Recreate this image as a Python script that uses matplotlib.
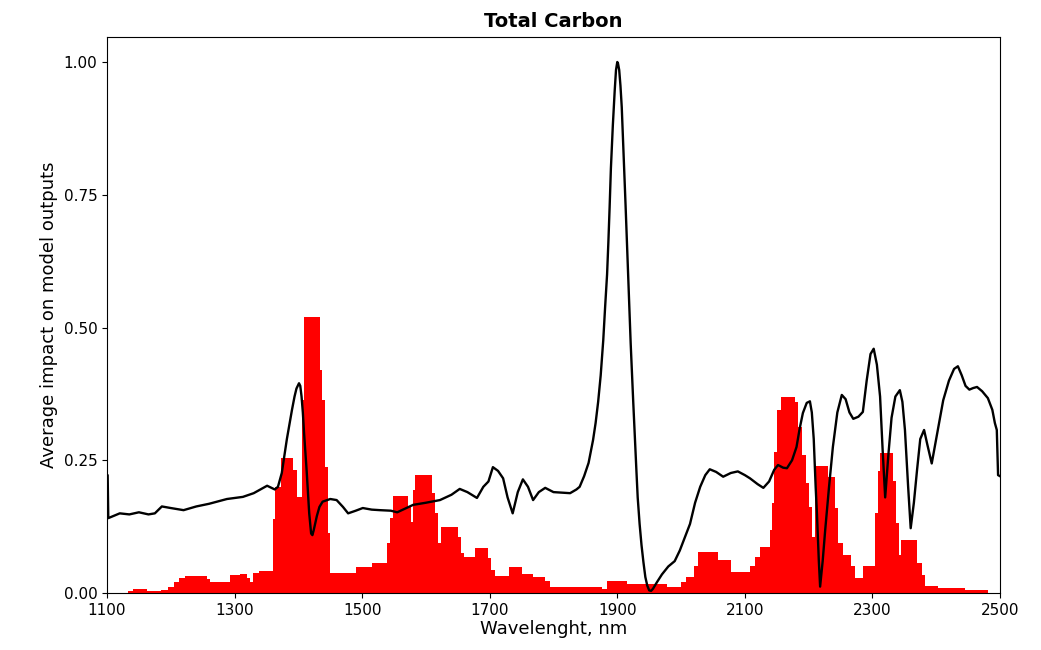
import matplotlib
matplotlib.use('Agg')
import matplotlib.pyplot as plt
import numpy as np

# black curve: average impact
wl = [1100, 1101, 1102, 1110, 1120, 1135, 1150, 1165, 1175, 1186, 1200, 1220, 1240, 1260,
      1288, 1313, 1330, 1345, 1351, 1363, 1368, 1374, 1382, 1390, 1394, 1397, 1401, 1403, 1405,
      1407, 1409, 1411, 1413, 1415, 1417, 1420, 1422, 1424, 1429, 1433, 1438, 1450, 1460, 1470,
      1478, 1490, 1501, 1515, 1528, 1545, 1555, 1580, 1600, 1622, 1640, 1653, 1665, 1680, 1690,
      1698, 1705, 1713, 1721, 1728, 1736, 1744, 1752, 1760, 1768, 1777, 1787, 1800, 1826, 1836,
      1841, 1848, 1855, 1862, 1866, 1870, 1874, 1878, 1881, 1884, 1886, 1888, 1890, 1893, 1896,
      1898, 1900, 1901, 1903, 1905, 1907, 1909, 1911, 1913, 1915, 1917, 1919, 1921, 1923, 1925,
      1928, 1930, 1932, 1935, 1938, 1941, 1944, 1947, 1950, 1953, 1956, 1962, 1970, 1980, 1990,
      1998, 2006, 2014, 2022, 2030, 2038, 2045, 2055, 2066, 2078, 2089, 2100, 2108, 2120, 2129,
      2138, 2146, 2152, 2160, 2166, 2174, 2181, 2186, 2191, 2197, 2202, 2205, 2208, 2211, 2213,
      2216, 2218, 2222, 2226, 2232, 2238, 2245, 2252, 2258, 2264, 2270, 2278, 2285, 2291, 2297,
      2302, 2307, 2312, 2316, 2320, 2325, 2330, 2336, 2343, 2347, 2351, 2356, 2360, 2365, 2370,
      2375, 2381, 2386, 2393, 2400, 2411, 2420, 2428, 2434, 2440, 2446, 2452, 2458, 2464, 2472,
      2481, 2488, 2492, 2495, 2497, 2500]
impact = [0.222, 0.222, 0.141, 0.145, 0.150, 0.148, 0.152, 0.148, 0.150, 0.163, 0.160, 0.156, 0.163, 0.168,
          0.177, 0.181, 0.188, 0.198, 0.202, 0.195, 0.200, 0.226, 0.290, 0.345, 0.370, 0.385, 0.395, 0.390, 0.370,
          0.340, 0.300, 0.265, 0.230, 0.190, 0.150, 0.112, 0.109, 0.118, 0.145, 0.162, 0.172, 0.177, 0.175, 0.162,
          0.150, 0.155, 0.160, 0.157, 0.156, 0.155, 0.152, 0.166, 0.170, 0.175, 0.185, 0.196, 0.190, 0.179, 0.200,
          0.210, 0.237, 0.230, 0.216, 0.180, 0.150, 0.190, 0.214, 0.200, 0.175, 0.190, 0.198, 0.190, 0.188, 0.195,
          0.200, 0.220, 0.245, 0.288, 0.320, 0.360, 0.410, 0.476, 0.540, 0.600, 0.660, 0.727, 0.800, 0.880, 0.947,
          0.985, 1.000, 0.998, 0.985, 0.955, 0.915, 0.855, 0.790, 0.730, 0.665, 0.600, 0.530, 0.470, 0.414, 0.360,
          0.280, 0.230, 0.180, 0.130, 0.090, 0.058, 0.030, 0.014, 0.005, 0.004, 0.008, 0.020, 0.035, 0.050, 0.060,
          0.080, 0.105, 0.130, 0.170, 0.200, 0.222, 0.233, 0.228, 0.219, 0.226, 0.229, 0.222, 0.216, 0.205, 0.198,
          0.210, 0.232, 0.241, 0.236, 0.235, 0.250, 0.275, 0.310, 0.339, 0.358, 0.361, 0.340, 0.290, 0.200, 0.150,
          0.060, 0.012, 0.060, 0.119, 0.200, 0.275, 0.340, 0.373, 0.365, 0.340, 0.328, 0.332, 0.341, 0.400, 0.450,
          0.460, 0.430, 0.370, 0.270, 0.180, 0.260, 0.330, 0.370, 0.382, 0.360, 0.307, 0.200, 0.122, 0.170, 0.232,
          0.290, 0.307, 0.280, 0.244, 0.290, 0.363, 0.400, 0.422, 0.427, 0.410, 0.390, 0.383, 0.386, 0.388, 0.380,
          0.367, 0.345, 0.320, 0.307, 0.222, 0.220]

# red histogram: left edges (last value closes the final bar) and heights
red_edges = [1133, 1140, 1163, 1185, 1196, 1205, 1213, 1222, 1257, 1262, 1293, 1309, 1319, 1324,
             1329, 1338, 1360, 1364, 1372, 1392, 1398, 1405, 1409, 1434, 1437, 1442, 1447, 1450,
             1490, 1515, 1539, 1544, 1549, 1572, 1576, 1580, 1583, 1609, 1614, 1619, 1623, 1650,
             1655, 1660, 1677, 1697, 1702, 1708, 1730, 1751, 1768, 1787, 1794, 1876, 1884, 1915,
             1978, 2000, 2008, 2020, 2027, 2058, 2078, 2108, 2116, 2124, 2140, 2143, 2146, 2150,
             2156, 2179, 2184, 2190, 2196, 2200, 2205, 2210, 2231, 2241, 2246, 2254, 2266, 2272,
             2286, 2304, 2308, 2312, 2332, 2337, 2342, 2345, 2370, 2377, 2383, 2403, 2445, 2481]
red_heights = [0.004, 0.008, 0.004, 0.006, 0.012, 0.020, 0.028, 0.032, 0.027, 0.020, 0.033, 0.036, 0.028, 0.020,
               0.037, 0.042, 0.140, 0.200, 0.254, 0.232, 0.180, 0.363, 0.520, 0.420, 0.363, 0.237, 0.113, 0.037,
               0.049, 0.057, 0.094, 0.141, 0.183, 0.162, 0.134, 0.194, 0.222, 0.188, 0.150, 0.094, 0.125, 0.106,
               0.075, 0.068, 0.085, 0.065, 0.043, 0.032, 0.049, 0.036, 0.030, 0.022, 0.012, 0.008, 0.022, 0.017,
               0.011, 0.020, 0.030, 0.050, 0.077, 0.062, 0.040, 0.050, 0.068, 0.087, 0.119, 0.170, 0.265, 0.345,
               0.370, 0.360, 0.313, 0.260, 0.207, 0.162, 0.105, 0.240, 0.218, 0.160, 0.094, 0.072, 0.050, 0.028,
               0.050, 0.150, 0.230, 0.264, 0.210, 0.132, 0.072, 0.100, 0.056, 0.034, 0.014, 0.009, 0.006]

fig = plt.figure(figsize=(10.41, 6.5), dpi=100)
ax = fig.add_axes([0.1028, 0.0877, 0.8578, 0.8553])

ax.stairs(red_heights, red_edges, fill=True, color='red', linewidth=0)
ax.plot(wl, impact, color='black', linewidth=1.7)

ax.set_xlim(1100, 2500)
ax.set_ylim(0, 1.047)
ax.set_xticks(range(1100, 2501, 200))
ax.set_yticks([0, 0.25, 0.5, 0.75, 1.0])
ax.set_yticklabels(['0.00', '0.25', '0.50', '0.75', '1.00'])
ax.tick_params(labelsize=11)
ax.set_xlabel("Wavelenght, nm", fontsize=13, labelpad=2)
ax.set_ylabel("Average impact on model outputs", fontsize=13)
ax.set_title("Total Carbon", fontsize=14, fontweight='bold', pad=7)

fig.savefig('out.png', dpi=100)
